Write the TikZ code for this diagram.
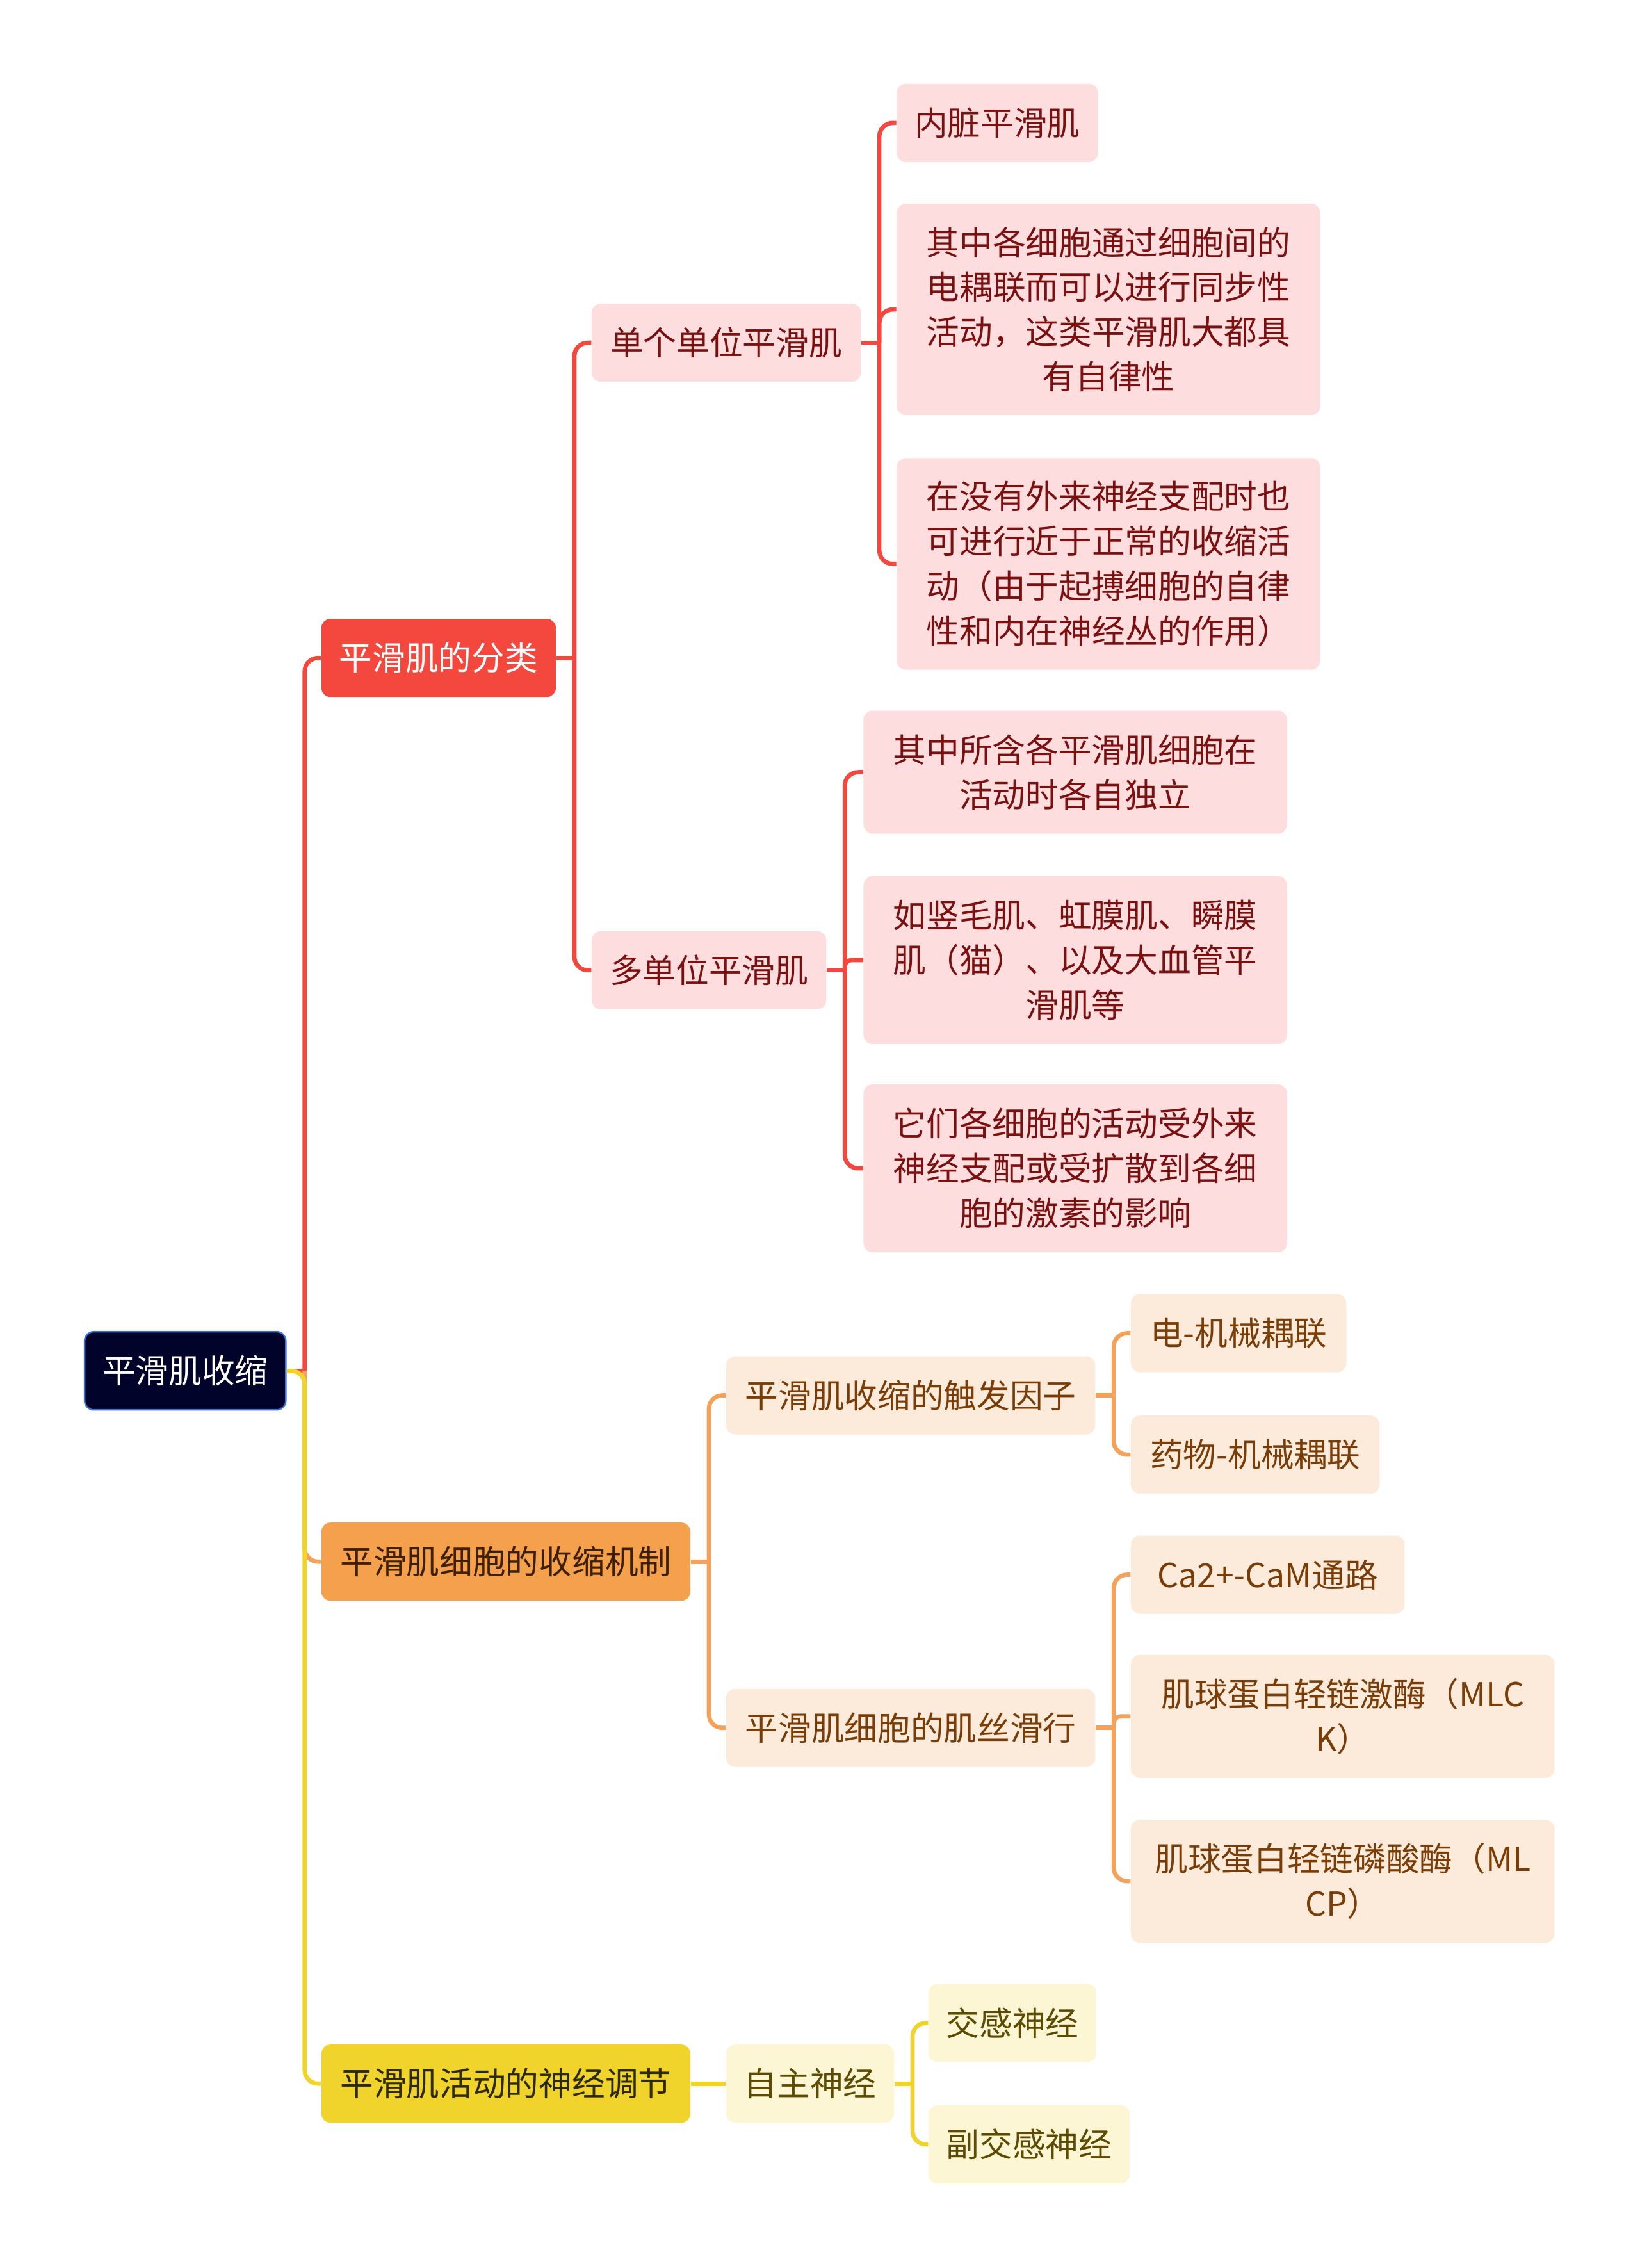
\documentclass[tikz,border=0pt]{standalone}
\usepackage{fontspec}
\setmainfont{Noto Sans CJK SC}
\usepackage{tikz}
\usetikzlibrary{calc}
\definecolor{mNavy}{HTML}{02032A}
\definecolor{mBlue}{HTML}{3A72D8}
\definecolor{mRed}{HTML}{F4473D}
\definecolor{mPink}{HTML}{FDDDDD}
\definecolor{mRedText}{HTML}{7B1010}
\definecolor{mOrange}{HTML}{F5A04D}
\definecolor{mOrangeLine}{HTML}{F2A25A}
\definecolor{mPeach}{HTML}{FCEBDA}
\definecolor{mBrown}{HTML}{7A3D07}
\definecolor{mDarkBrown}{HTML}{3D2000}
\definecolor{mYellow}{HTML}{F0D42C}
\definecolor{mCream}{HTML}{FCF6D5}
\definecolor{mOlive}{HTML}{5C4B00}
\definecolor{mDarkOlive}{HTML}{2E2A00}

\begin{document}
\begin{tikzpicture}[
  x=0.022575cm, y=-0.022575cm,
  topic/.style={rounded corners=4pt, anchor=west, align=center, inner sep=2pt,
                minimum height=1.22cm, font=\fontsize{14.7pt}{19.9pt}\selectfont},
  root/.style={topic, fill=mNavy, draw=mBlue, line width=0.7pt, text=white},
  redmain/.style={topic, fill=mRed, text=white},
  redsub/.style={topic, fill=mPink, text=mRedText},
  orangemain/.style={topic, fill=mOrange, text=mDarkBrown},
  orangesub/.style={topic, fill=mPeach, text=mBrown},
  yellowmain/.style={topic, fill=mYellow, text=mDarkOlive},
  yellowsub/.style={topic, fill=mCream, text=mOlive},
  link/.style={line width=1.9pt, rounded corners=6pt},
]
  \useasboundingbox (0,0) rectangle (1134,1568.5);

  \node[root, minimum width=3.14cm] (shousuo) at (58,948) {平滑肌收缩};

  \node[redmain, minimum width=3.66cm] (fenlei) at (222,455) {平滑肌的分类};
  \node[orangemain, minimum width=5.76cm] (jizhi) at (222,1080) {平滑肌细胞的收缩机制};
  \node[yellowmain, minimum width=5.76cm] (tiaojie) at (222,1441) {平滑肌活动的神经调节};

  \node[redsub, minimum width=4.20cm] (dange) at (409,237) {单个单位平滑肌};
  \node[redsub, minimum width=3.66cm] (duo) at (409,671) {多单位平滑肌};

  \node[redsub, minimum width=3.14cm] (neizang) at (620,85) {内脏平滑肌};
  \node[redsub, minimum width=6.61cm, minimum height=3.30cm] (ouliang) at (620,214)
    {其中各细胞通过细胞间的\\电耦联而可以进行同步性\\活动，这类平滑肌大都具\\有自律性};
  \node[redsub, minimum width=6.61cm, minimum height=3.30cm] (zilv) at (620,390)
    {在没有外来神经支配时也\\可进行近于正常的收缩活\\动（由于起搏细胞的自律\\性和内在神经丛的作用）};

  \node[redsub, minimum width=6.61cm, minimum height=1.92cm] (duli) at (597,534)
    {其中所含各平滑肌细胞在\\活动时各自独立};
  \node[redsub, minimum width=6.61cm, minimum height=2.62cm] (shumao) at (597,664)
    {如竖毛肌、虹膜肌、瞬膜\\肌（猫）、以及大血管平\\滑肌等};
  \node[redsub, minimum width=6.61cm, minimum height=2.62cm] (jisu) at (597,808)
    {它们各细胞的活动受外来\\神经支配或受扩散到各细\\胞的激素的影响};

  \node[orangesub, minimum width=5.76cm] (chufa) at (502,965) {平滑肌收缩的触发因子};
  \node[orangesub, minimum width=5.76cm] (huaxing) at (502,1195) {平滑肌细胞的肌丝滑行};

  \node[orangesub, minimum width=3.36cm] (dianji) at (782,922) {电-机械耦联};
  \node[orangesub, minimum width=3.88cm] (yaowu) at (782,1006) {药物-机械耦联};
  \node[orangesub, minimum width=4.27cm] (cam) at (782,1089) {Ca2+-CaM通路};
  \node[orangesub, minimum width=6.61cm, minimum height=1.92cm] (mlck) at (782,1187)
    {肌球蛋白轻链激酶（MLC\\K）};
  \node[orangesub, minimum width=6.61cm, minimum height=1.92cm] (mlcp) at (782,1301)
    {肌球蛋白轻链磷酸酶（ML\\CP）};

  \node[yellowsub, minimum width=2.62cm] (zizhu) at (502,1441) {自主神经};
  \node[yellowsub, minimum width=2.62cm] (jiaogan) at (642,1399) {交感神经};
  \node[yellowsub, minimum width=3.14cm] (fujiao) at (642,1483) {副交感神经};

  \draw[link, mRed] (shousuo.east) -- ++(12.5,0) coordinate (j-shousuo);
  \draw[link, mRed] (j-shousuo) |- (fenlei.west);
  \draw[link, mRed] (fenlei.east) -- ++(12.5,0) coordinate (j-fenlei);
  \draw[link, mRed] (j-fenlei) |- (dange.west);
  \draw[link, mRed] (j-fenlei) |- (duo.west);
  \draw[link, mRed] (dange.east) -- ++(12.5,0) coordinate (j-dange);
  \draw[link, mRed] (j-dange) |- (neizang.west);
  \draw[link, mRed] (j-dange) |- (ouliang.west);
  \draw[link, mRed] (j-dange) |- (zilv.west);
  \draw[link, mRed] (duo.east) -- ++(12.5,0) coordinate (j-duo);
  \draw[link, mRed] (j-duo) |- (duli.west);
  \draw[link, mRed, rounded corners=3pt] (j-duo) |- (shumao.west);
  \draw[link, mRed] (j-duo) |- (jisu.west);

  \draw[link, mOrangeLine] (j-shousuo) |- (jizhi.west);
  \draw[link, mOrangeLine] (jizhi.east) -- ++(12.5,0) coordinate (j-jizhi);
  \draw[link, mOrangeLine] (j-jizhi) |- (chufa.west);
  \draw[link, mOrangeLine] (j-jizhi) |- (huaxing.west);
  \draw[link, mOrangeLine] (chufa.east) -- ++(12.5,0) coordinate (j-chufa);
  \draw[link, mOrangeLine] (j-chufa) |- (dianji.west);
  \draw[link, mOrangeLine] (j-chufa) |- (yaowu.west);
  \draw[link, mOrangeLine] (huaxing.east) -- ++(12.5,0) coordinate (j-huaxing);
  \draw[link, mOrangeLine] (j-huaxing) |- (cam.west);
  \draw[link, mOrangeLine, rounded corners=3pt] (j-huaxing) |- (mlck.west);
  \draw[link, mOrangeLine] (j-huaxing) |- (mlcp.west);

  \draw[link, mYellow] (shousuo.east) -- (j-shousuo) |- (tiaojie.west);
  \draw[link, mYellow] (tiaojie.east) -- (zizhu.west);
  \draw[link, mYellow] (zizhu.east) -- ++(12.5,0) coordinate (j-zizhu);
  \draw[link, mYellow] (j-zizhu) |- (jiaogan.west);
  \draw[link, mYellow] (j-zizhu) |- (fujiao.west);
\end{tikzpicture}
\end{document}
